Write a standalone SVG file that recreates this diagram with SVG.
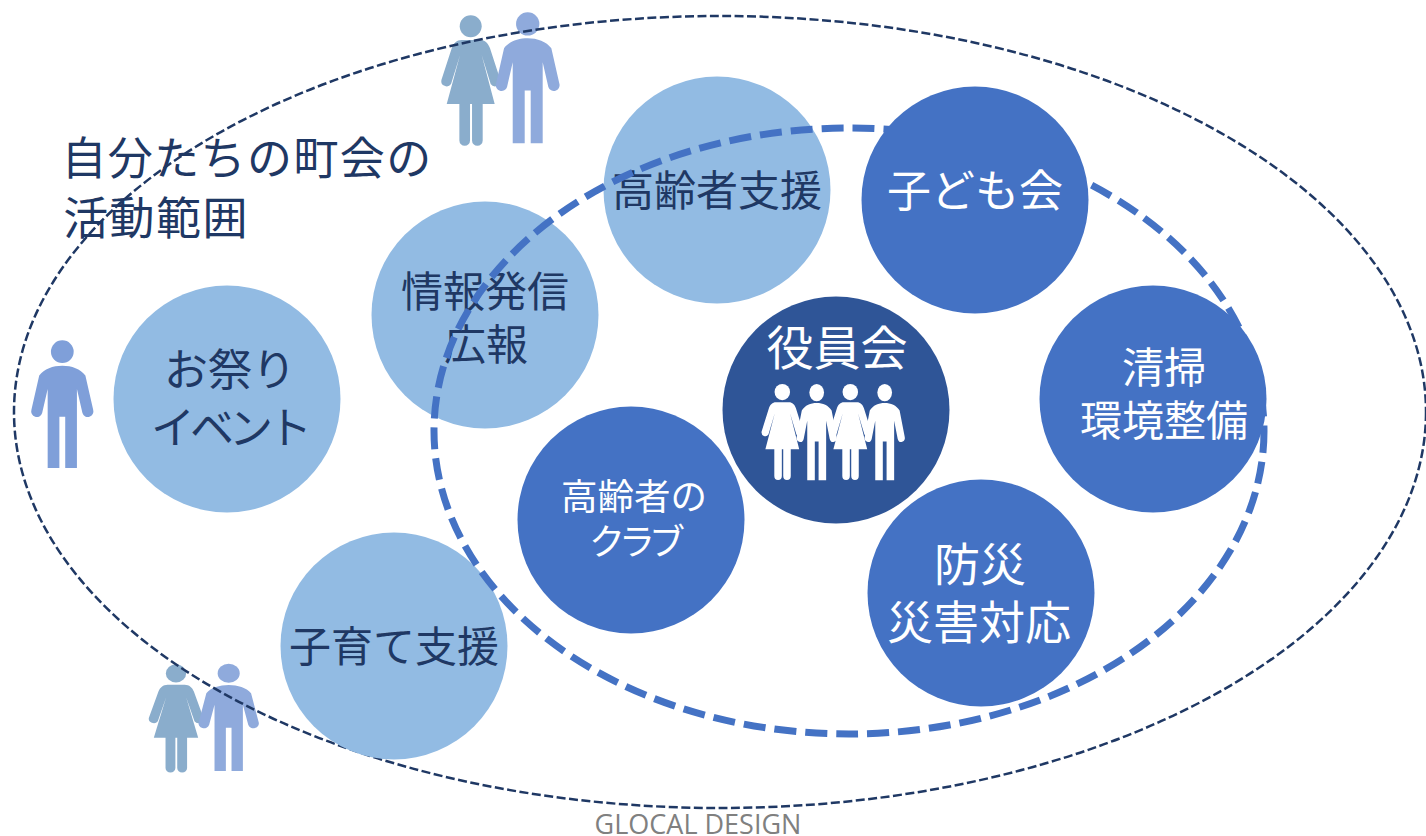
<svg xmlns="http://www.w3.org/2000/svg" width="1426" height="836" viewBox="0 0 1426 836">
<style>
text{font-family:"Noto Sans CJK JP","Noto Sans",sans-serif;text-anchor:middle;font-size:42px;fill:#1F3864}
.light{fill:#92BBE3}
.mid{fill:#4472C4}
.w{fill:#fff}
.outer{fill:none;stroke:#1F3864;stroke-width:2.500;stroke-dasharray:9 3.500}
.inner{fill:none;stroke:#4472C4;stroke-width:7;stroke-dasharray:22 9}
</style>
<defs>
<g id="man"><circle cx="0" cy="35" r="35"/><path d="M0 78C29 78 56 88 71 108L95 214A17 17 0 0 1 62 224L45 150V393H9V235H-9V393H-45V150L-62 224A17 17 0 0 1 -95 214L-71 108C-56 88 -29 78 0 78Z"/></g>
<g id="woman"><circle cx="0" cy="33" r="33"/><path d="M-27 74H28C43 74 53 84 58 99L89 194A16 16 0 0 1 60 206L33 119L72 266H36V376A16 16 0 0 1 4 376V266H-2V376A16 16 0 0 1 -34 376V266H-72L-32 119L-59 206A16 16 0 0 1 -88 194L-57 99C-52 84 -42 74 -27 74Z"/></g>
</defs>
<g id="people">
<use href="#woman" fill="#8AADCC" transform="translate(470.700 15.300) scale(.333)"/>
<use href="#man" fill="#8FAADC" transform="translate(527.700 12.300) scale(.333)"/>
<use href="#man" fill="#7F9FD9" transform="translate(62.300 340.300) scale(.325)"/>
<use href="#woman" fill="#8AADCC" transform="translate(176 664.300) scale(.308 .276)"/>
<use href="#man" fill="#8FAADC" transform="translate(228.700 663.700) scale(.315 .273)"/>
</g>
<g id="connectors"><ellipse class="outer" cx="720" cy="412" rx="706" ry="396"/></g>
<g id="n-matsuri"><circle class="light" cx="227" cy="399" r="113.500"/><text><tspan x="230" y="386" style="font-size:44px">お祭り</tspan><tspan x="229" y="444" style="font-size:44px;letter-spacing:-5px">イベント</tspan></text></g>
<g id="n-joho"><circle class="light" cx="485" cy="315" r="113.500"/><text><tspan x="485" y="307">情報発信</tspan><tspan x="486" y="360">広報</tspan></text></g>
<g id="n-koreisha"><circle class="light" cx="717" cy="190" r="113.500"/><text x="717" y="206">高齢者支援</text></g>
<g id="n-kosodate"><circle class="light" cx="394" cy="646" r="113.500"/><text x="394" y="662">子育て支援</text></g>
<g id="connectors-inner"><ellipse class="inner" cx="849" cy="431" rx="415" ry="303"/></g>
<g id="n-kodomo"><circle class="mid" cx="975" cy="200" r="113.500"/><text class="w" x="975" y="207" style="font-size:44px">子ども会</text></g>
<g id="n-seiso"><circle class="mid" cx="1153" cy="399" r="113.500"/><text class="w" style="font-size:42px"><tspan x="1164" y="383">清掃</tspan><tspan x="1164" y="436">環境整備</tspan></text></g>
<g id="n-bosai"><circle class="mid" cx="981" cy="593" r="113.500"/><text class="w" style="font-size:46px"><tspan x="980" y="581">防災</tspan><tspan x="979" y="639">災害対応</tspan></text></g>
<g id="n-club"><circle class="mid" cx="631" cy="520" r="113.500"/><text class="w"><tspan x="634" y="510" style="font-size:36.500px">高齢者の</tspan><tspan x="634" y="555" style="font-size:36px;letter-spacing:-6px">クラブ</tspan></text></g>
<g id="n-yakuin"><circle cx="836" cy="410" r="113.500" fill="#2F5597"/><text class="w" x="837" y="365" style="font-size:47px">役員会</text>
<g fill="#fff">
<use href="#woman" transform="translate(782.300 384) scale(.235 .245)"/>
<use href="#man" transform="translate(816.700 384) scale(.21 .245)"/>
<use href="#woman" transform="translate(850.300 384) scale(.235 .245)"/>
<use href="#man" transform="translate(884.700 384) scale(.21 .245)"/>
</g></g>
<g id="title"><text style="font-size:45px;letter-spacing:1.400px"><tspan x="247" y="175">自分たちの町会の</tspan><tspan x="156" y="235">活動範囲</tspan></text></g>
<text x="698" y="834" style="font-family:'Open Sans',sans-serif;font-size:27px;fill:#808080">GLOCAL DESIGN</text>
</svg>
